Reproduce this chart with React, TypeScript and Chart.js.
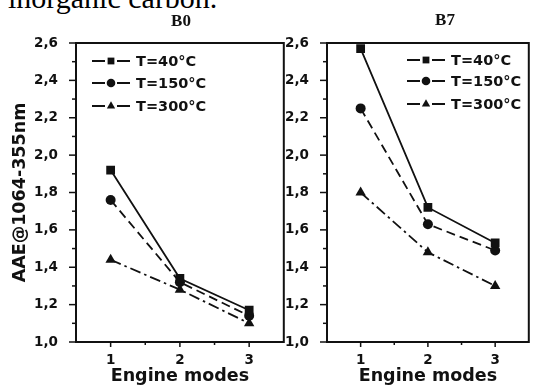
import React, { useEffect, useRef } from 'react';
import { Chart, registerables } from 'chart.js';

Chart.register(...registerables);

// ---------- data ----------
const modes = [1, 2, 3];
const seriesLabels = ['T=40°C', 'T=150°C', 'T=300°C'];
const panelTitles = ['B0', 'B7'];
const b0T40 = [1.92, 1.34, 1.17];
const b0T150 = [1.76, 1.32, 1.14];
const b0T300 = [1.44, 1.28, 1.1];
const b7T40 = [2.57, 1.72, 1.53];
const b7T150 = [2.25, 1.63, 1.49];
const b7T300 = [1.8, 1.48, 1.3];
const yTickValues = [1.0, 1.2, 1.4, 1.6, 1.8, 2.0, 2.2, 2.4, 2.6];
const yTickLabels = ['1,0', '1,2', '1,4', '1,6', '1,8', '2,0', '2,2', '2,4', '2,6'];
const xTickLabels = ['1', '2', '3'];
const xTitle = 'Engine modes';
const yTitle = 'AAE@1064-355nm';
const headerText = 'inorganic carbon.';

// ---------- styles ----------
const INK = '#111111';
const pointStyles = ['rect', 'circle', 'triangle'];
const pointRadii = [6.2, 5, 6];
const dashes: number[][] = [[], [9, 5], [11, 4, 2.5, 4]];
const TICK_FONT = { family: '"DejaVu Sans", sans-serif', size: 13.5, weight: 'bold' as const };
const TITLE_FONT = { family: '"DejaVu Sans", sans-serif', size: 17.5, weight: 'bold' as const };
const H = 387;

function drawMarker(ctx: CanvasRenderingContext2D, style: string, x: number, y: number, r: number) {
  ctx.beginPath();
  if (style === 'rect') {
    const s = r * Math.SQRT1_2;
    ctx.rect(x - s, y - s, 2 * s, 2 * s);
  } else if (style === 'circle') {
    ctx.arc(x, y, r, 0, Math.PI * 2);
  } else {
    const a = (Math.PI * 2) / 3;
    ctx.moveTo(x, y - r);
    ctx.lineTo(x + r * Math.sin(a), y - r * Math.cos(a));
    ctx.lineTo(x - r * Math.sin(a), y - r * Math.cos(a));
    ctx.closePath();
  }
  ctx.fill();
}

const framePlugin = {
  id: 'frame',
  afterDraw(chart: any, _args: any, opts: any) {
    const { ctx, chartArea: a, scales } = chart;
    ctx.save();
    ctx.strokeStyle = INK;
    ctx.fillStyle = INK;
    ctx.lineWidth = 2;
    ctx.setLineDash([]);
    ctx.strokeRect(a.left, a.top, a.right - a.left, a.bottom - a.top);
    ctx.lineWidth = 1.5;
    // y ticks (major + minor)
    const ys = scales.y;
    const yt = ys.ticks.map((t: any) => t.value);
    for (let i = 0; i < yt.length; i++) {
      const py = ys.getPixelForValue(yt[i]);
      ctx.beginPath();
      ctx.moveTo(a.left - 7, py);
      ctx.lineTo(a.left, py);
      ctx.stroke();
      if (i < yt.length - 1) {
        const pm = ys.getPixelForValue((yt[i] + yt[i + 1]) / 2);
        ctx.beginPath();
        ctx.moveTo(a.left - 4, pm);
        ctx.lineTo(a.left, pm);
        ctx.stroke();
      }
    }
    // x ticks (major + minor)
    const xs = scales.x;
    const xt = xs.ticks.map((t: any) => t.value);
    for (let i = 0; i < xt.length; i++) {
      const px = xs.getPixelForValue(xt[i]);
      ctx.beginPath();
      ctx.moveTo(px, a.bottom);
      ctx.lineTo(px, a.bottom + 5);
      ctx.stroke();
      if (i < xt.length - 1) {
        const pm = xs.getPixelForValue((xt[i] + xt[i + 1]) / 2);
        ctx.beginPath();
        ctx.moveTo(pm, a.bottom);
        ctx.lineTo(pm, a.bottom + 3);
        ctx.stroke();
      }
    }
    // panel title
    ctx.font = 'bold 17px "Liberation Serif", serif';
    ctx.textAlign = 'center';
    ctx.textBaseline = 'alphabetic';
    ctx.fillText(opts.title, opts.titleX, opts.titleY);
    // legend
    ctx.font = 'bold 14.5px "DejaVu Sans", sans-serif';
    ctx.textAlign = 'left';
    ctx.textBaseline = 'middle';
    chart.data.datasets.forEach((ds: any, i: number) => {
      const y = opts.legendY[i];
      const x0 = opts.legendX;
      const x1 = x0 + 38;
      const xm = (x0 + x1) / 2;
      ctx.lineWidth = 2;
      ctx.beginPath();
      ctx.moveTo(x0, y);
      ctx.lineTo(xm - 6, y);
      ctx.moveTo(xm + 6, y);
      ctx.lineTo(x1, y);
      ctx.stroke();
      drawMarker(ctx, pointStyles[i], xm, y, i === 1 ? 4.3 : 4.8);
      ctx.fillText(ds.label, x1 + 6, y + 1);
    });
    ctx.restore();
  },
};

type PanelProps = {
  left: number;
  width: number;
  plotLeft: number;
  plotRight: number;
  series: number[][];
  title: string;
  titleX: number;
  titleY: number;
  legendX: number;
  legendY: number[];
  showYTitle: boolean;
};

function Panel(p: PanelProps) {
  const ref = useRef<HTMLCanvasElement>(null);
  useEffect(() => {
    if (!ref.current) return;
    const datasets = p.series.map((vals, i) => ({
      label: seriesLabels[i],
      data: modes.map((m, j) => ({ x: m, y: vals[j] })),
      borderColor: INK,
      backgroundColor: INK,
      borderWidth: 1.8,
      borderDash: dashes[i],
      pointStyle: pointStyles[i],
      pointRadius: pointRadii[i],
      pointBorderWidth: 0,
      pointBackgroundColor: INK,
      tension: 0,
    }));
    const chart = new Chart(ref.current, {
      type: 'line',
      data: { datasets },
      plugins: [framePlugin],
      options: {
        responsive: false,
        animation: false,
        layout: { padding: { top: 43, right: p.width - p.plotRight, bottom: 0, left: 0 } },
        plugins: {
          legend: { display: false },
          tooltip: { enabled: false },
          title: { display: false },
          frame: {
            title: p.title,
            titleX: p.titleX,
            titleY: p.titleY,
            legendX: p.legendX,
            legendY: p.legendY,
          },
        } as any,
        scales: {
          x: {
            type: 'linear',
            min: 0.5,
            max: 3.5,
            grid: { display: false },
            border: { display: false },
            afterBuildTicks: (s: any) => {
              s.ticks = modes.map((v) => ({ value: v }));
            },
            ticks: {
              autoSkip: false,
              font: TICK_FONT,
              color: INK,
              padding: 2,
              maxRotation: 0,
              callback: (_v: any, idx: number) => xTickLabels[idx],
            },
            title: {
              display: true,
              text: xTitle,
              font: TITLE_FONT,
              color: INK,
              padding: { top: 0, bottom: 0 },
            },
            afterFit: (s: any) => {
              s.height = H - 342;
            },
          },
          y: {
            type: 'linear',
            min: 1.0,
            max: 2.6,
            grid: { display: false },
            border: { display: false },
            afterBuildTicks: (s: any) => {
              s.ticks = yTickValues.map((v) => ({ value: v }));
            },
            ticks: {
              autoSkip: false,
              font: TICK_FONT,
              color: INK,
              padding: 10,
              callback: (_v: any, idx: number) => yTickLabels[idx],
            },
            title: {
              display: p.showYTitle,
              text: yTitle,
              font: TITLE_FONT,
              color: INK,
              padding: { top: 10, bottom: 0 },
            },
            afterFit: (s: any) => {
              s.width = p.plotLeft;
            },
          },
        },
      } as any,
    });
    return () => chart.destroy();
  }, []);
  return (
    <canvas
      ref={ref}
      width={p.width}
      height={H}
      style={{ position: 'absolute', left: p.left, top: 0, width: p.width, height: H, display: 'block' }}
    />
  );
}

export default function App() {
  return (
    <div
      style={{
        position: 'fixed',
        left: 0,
        top: 0,
        width: 535,
        height: 387,
        overflow: 'hidden',
        background: '#ffffff',
      }}
    >
      <div
        style={{
          position: 'absolute',
          left: 8,
          top: -17,
          fontFamily: '"Liberation Serif", "Times New Roman", serif',
          fontSize: 30,
          lineHeight: '30px',
          color: '#000',
          whiteSpace: 'nowrap',
        }}
      >
        {headerText}
      </div>
      <Panel
        left={0}
        width={290}
        plotLeft={76}
        plotRight={284}
        series={[b0T40, b0T150, b0T300]}
        title={panelTitles[0]}
        titleX={181}
        titleY={26}
        legendX={92}
        legendY={[61, 83, 106]}
        showYTitle={true}
      />
      <Panel
        left={285}
        width={250}
        plotLeft={42}
        plotRight={249}
        series={[b7T40, b7T150, b7T300]}
        title={panelTitles[1]}
        titleX={160}
        titleY={25}
        legendX={122}
        legendY={[60, 81, 104]}
        showYTitle={false}
      />
    </div>
  );
}
